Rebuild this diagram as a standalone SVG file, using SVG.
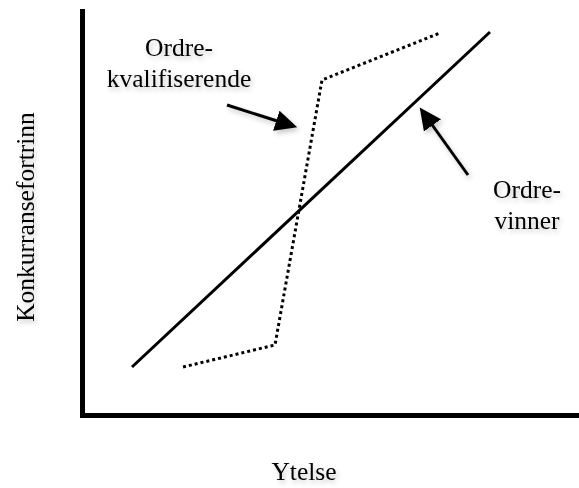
<svg xmlns="http://www.w3.org/2000/svg" width="579" height="488" viewBox="0 0 579 488">
  <style>
    .lbl { font-family: "Liberation Serif", "Times New Roman", serif; font-size: 25.5px; fill: #000; }
    .axis { stroke: #000; stroke-width: 5; fill: none; }
    .solid { stroke: #000; stroke-width: 3; fill: none; }
    .dotted { stroke: #000; stroke-width: 3; fill: none; stroke-dasharray: 3 3; }
    .arrow { stroke: #000; stroke-width: 3; fill: none; }
  </style>
  <defs>
    <filter id="shadow" x="-20%" y="-20%" width="140%" height="140%">
      <feDropShadow dx="2" dy="3" stdDeviation="2.5" flood-color="#000" flood-opacity="0.22"/>
    </filter>
    <marker id="head" markerUnits="userSpaceOnUse" markerWidth="24" markerHeight="22" refX="6" refY="10.5" orient="auto">
      <path d="M0,0 L22,10.5 L0,21 z" fill="#000"/>
    </marker>
  </defs>
  <rect width="579" height="488" fill="#fff"/>
  <g id="axes">
    <line class="axis" x1="82.5" y1="9" x2="82.5" y2="418"/>
    <line class="axis" x1="80" y1="415.5" x2="579" y2="415.5"/>
  </g>
  <g id="connectors">
    <line id="ordrevinner-line" class="solid" x1="132" y1="367" x2="490" y2="32"/>
    <polyline id="ordrekval-line" class="dotted" points="183,367 275,345 322,80 440,33"/>
    <g filter="url(#shadow)">
      <line id="arrow-kval" class="arrow" x1="227" y1="105" x2="282" y2="122.5" marker-end="url(#head)"/>
      <line id="arrow-vinner" class="arrow" x1="468" y1="175" x2="429" y2="120.5" marker-end="url(#head)"/>
    </g>
  </g>
  <g id="label-kval" filter="url(#shadow)">
    <text class="lbl" x="179" y="56" text-anchor="middle">Ordre-</text>
    <text class="lbl" x="179" y="87" text-anchor="middle">kvalifiserende</text>
  </g>
  <g id="label-vinner" filter="url(#shadow)">
    <text class="lbl" x="527" y="198" text-anchor="middle">Ordre-</text>
    <text class="lbl" x="527" y="229" text-anchor="middle">vinner</text>
  </g>
  <g id="label-y" filter="url(#shadow)">
    <text class="lbl" transform="translate(34,217) rotate(-90)" text-anchor="middle">Konkurransefortrinn</text>
  </g>
  <g id="label-x" filter="url(#shadow)">
    <text class="lbl" x="304" y="480" text-anchor="middle">Ytelse</text>
  </g>
</svg>
